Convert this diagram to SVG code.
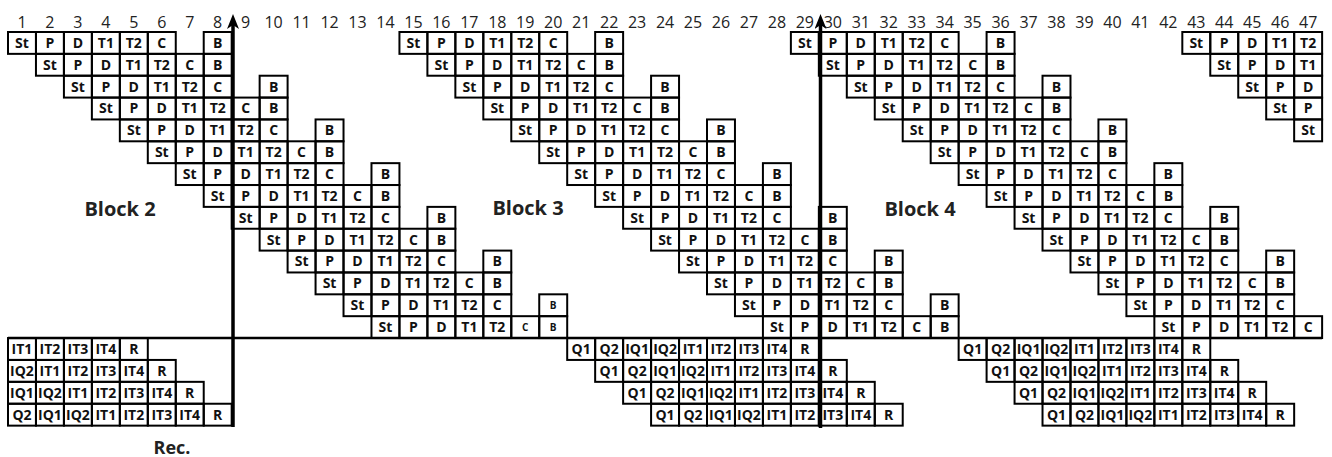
<svg xmlns="http://www.w3.org/2000/svg" width="1332" height="457" viewBox="0 0 1332 457">
<style>
g.r rect{fill:none;stroke:#000;stroke-width:2}
g.r text{font-family:"Open Sans","Liberation Sans",sans-serif;font-weight:bold;font-size:14px;text-anchor:middle;fill:#111}
g.r text.s{font-size:10px}
.n{font-family:"Open Sans","Liberation Sans",sans-serif;font-size:16px;text-anchor:middle;fill:#222}
.lbl{font-family:"Open Sans","Liberation Sans",sans-serif;font-weight:bold;font-size:20px;text-anchor:middle;fill:#222}
.ax{stroke:#000;stroke-width:3.5;fill:none}
</style>
<defs>
<marker id="ah" markerUnits="userSpaceOnUse" viewBox="0 0 15 12" markerWidth="15" markerHeight="12" refX="4" refY="6" orient="auto"><path d="M0,0 L15,6 L0,12 L4,6 Z" fill="#000"/></marker>
</defs>
<rect x="0" y="0" width="1332" height="457" fill="#fff"/>
<g id="numbers">
<text class="n" x="21.98" y="28">1</text><text class="n" x="49.94" y="28">2</text><text class="n" x="77.9" y="28">3</text><text class="n" x="105.86" y="28">4</text><text class="n" x="133.82" y="28">5</text><text class="n" x="161.78" y="28">6</text><text class="n" x="189.74" y="28">7</text><text class="n" x="217.7" y="28">8</text><text class="n" x="245.66" y="28">9</text><text class="n" x="273.62" y="28">10</text><text class="n" x="301.58" y="28">11</text><text class="n" x="329.54" y="28">12</text><text class="n" x="357.5" y="28">13</text><text class="n" x="385.46" y="28">14</text><text class="n" x="413.42" y="28">15</text><text class="n" x="441.38" y="28">16</text><text class="n" x="469.34" y="28">17</text><text class="n" x="497.3" y="28">18</text><text class="n" x="525.26" y="28">19</text><text class="n" x="553.22" y="28">20</text><text class="n" x="581.18" y="28">21</text><text class="n" x="609.14" y="28">22</text><text class="n" x="637.1" y="28">23</text><text class="n" x="665.06" y="28">24</text><text class="n" x="693.02" y="28">25</text><text class="n" x="720.98" y="28">26</text><text class="n" x="748.94" y="28">27</text><text class="n" x="776.9" y="28">28</text><text class="n" x="804.86" y="28">29</text><text class="n" x="832.82" y="28">30</text><text class="n" x="860.78" y="28">31</text><text class="n" x="888.74" y="28">32</text><text class="n" x="916.7" y="28">33</text><text class="n" x="944.66" y="28">34</text><text class="n" x="972.62" y="28">35</text><text class="n" x="1000.58" y="28">36</text><text class="n" x="1028.54" y="28">37</text><text class="n" x="1056.5" y="28">38</text><text class="n" x="1084.46" y="28">39</text><text class="n" x="1112.42" y="28">40</text><text class="n" x="1140.38" y="28">41</text><text class="n" x="1168.34" y="28">42</text><text class="n" x="1196.3" y="28">43</text><text class="n" x="1224.26" y="28">44</text><text class="n" x="1252.22" y="28">45</text><text class="n" x="1280.18" y="28">46</text><text class="n" x="1308.14" y="28">47</text>
</g>
<g id="block2">
<g class="r" transform="translate(8,32)"><rect x="0" width="27.96" height="21.86"/><text x="13.98" y="15.8">St</text><rect x="27.96" width="27.96" height="21.86"/><text x="41.94" y="15.8">P</text><rect x="55.92" width="27.96" height="21.86"/><text x="69.9" y="15.8">D</text><rect x="83.88" width="27.96" height="21.86"/><text x="97.86" y="15.8">T1</text><rect x="111.84" width="27.96" height="21.86"/><text x="125.82" y="15.8">T2</text><rect x="139.8" width="27.96" height="21.86"/><text x="153.78" y="15.8">C</text><rect x="195.72" width="27.96" height="21.86"/><text x="209.7" y="15.8">B</text></g>
<g class="r" transform="translate(35.96,53.86)"><rect x="0" width="27.96" height="21.86"/><text x="13.98" y="15.8">St</text><rect x="27.96" width="27.96" height="21.86"/><text x="41.94" y="15.8">P</text><rect x="55.92" width="27.96" height="21.86"/><text x="69.9" y="15.8">D</text><rect x="83.88" width="27.96" height="21.86"/><text x="97.86" y="15.8">T1</text><rect x="111.84" width="27.96" height="21.86"/><text x="125.82" y="15.8">T2</text><rect x="139.8" width="27.96" height="21.86"/><text x="153.78" y="15.8">C</text><rect x="167.76" width="27.96" height="21.86"/><text x="181.74" y="15.8">B</text></g>
<g class="r" transform="translate(63.92,75.72)"><rect x="0" width="27.96" height="21.86"/><text x="13.98" y="15.8">St</text><rect x="27.96" width="27.96" height="21.86"/><text x="41.94" y="15.8">P</text><rect x="55.92" width="27.96" height="21.86"/><text x="69.9" y="15.8">D</text><rect x="83.88" width="27.96" height="21.86"/><text x="97.86" y="15.8">T1</text><rect x="111.84" width="27.96" height="21.86"/><text x="125.82" y="15.8">T2</text><rect x="139.8" width="27.96" height="21.86"/><text x="153.78" y="15.8">C</text><rect x="195.72" width="27.96" height="21.86"/><text x="209.7" y="15.8">B</text></g>
<g class="r" transform="translate(91.88,97.58)"><rect x="0" width="27.96" height="21.86"/><text x="13.98" y="15.8">St</text><rect x="27.96" width="27.96" height="21.86"/><text x="41.94" y="15.8">P</text><rect x="55.92" width="27.96" height="21.86"/><text x="69.9" y="15.8">D</text><rect x="83.88" width="27.96" height="21.86"/><text x="97.86" y="15.8">T1</text><rect x="111.84" width="27.96" height="21.86"/><text x="125.82" y="15.8">T2</text><rect x="139.8" width="27.96" height="21.86"/><text x="153.78" y="15.8">C</text><rect x="167.76" width="27.96" height="21.86"/><text x="181.74" y="15.8">B</text></g>
<g class="r" transform="translate(119.84,119.44)"><rect x="0" width="27.96" height="21.86"/><text x="13.98" y="15.8">St</text><rect x="27.96" width="27.96" height="21.86"/><text x="41.94" y="15.8">P</text><rect x="55.92" width="27.96" height="21.86"/><text x="69.9" y="15.8">D</text><rect x="83.88" width="27.96" height="21.86"/><text x="97.86" y="15.8">T1</text><rect x="111.84" width="27.96" height="21.86"/><text x="125.82" y="15.8">T2</text><rect x="139.8" width="27.96" height="21.86"/><text x="153.78" y="15.8">C</text><rect x="195.72" width="27.96" height="21.86"/><text x="209.7" y="15.8">B</text></g>
<g class="r" transform="translate(147.8,141.3)"><rect x="0" width="27.96" height="21.86"/><text x="13.98" y="15.8">St</text><rect x="27.96" width="27.96" height="21.86"/><text x="41.94" y="15.8">P</text><rect x="55.92" width="27.96" height="21.86"/><text x="69.9" y="15.8">D</text><rect x="83.88" width="27.96" height="21.86"/><text x="97.86" y="15.8">T1</text><rect x="111.84" width="27.96" height="21.86"/><text x="125.82" y="15.8">T2</text><rect x="139.8" width="27.96" height="21.86"/><text x="153.78" y="15.8">C</text><rect x="167.76" width="27.96" height="21.86"/><text x="181.74" y="15.8">B</text></g>
<g class="r" transform="translate(175.76,163.16)"><rect x="0" width="27.96" height="21.86"/><text x="13.98" y="15.8">St</text><rect x="27.96" width="27.96" height="21.86"/><text x="41.94" y="15.8">P</text><rect x="55.92" width="27.96" height="21.86"/><text x="69.9" y="15.8">D</text><rect x="83.88" width="27.96" height="21.86"/><text x="97.86" y="15.8">T1</text><rect x="111.84" width="27.96" height="21.86"/><text x="125.82" y="15.8">T2</text><rect x="139.8" width="27.96" height="21.86"/><text x="153.78" y="15.8">C</text><rect x="195.72" width="27.96" height="21.86"/><text x="209.7" y="15.8">B</text></g>
<g class="r" transform="translate(203.72,185.02)"><rect x="0" width="27.96" height="21.86"/><text x="13.98" y="15.8">St</text><rect x="27.96" width="27.96" height="21.86"/><text x="41.94" y="15.8">P</text><rect x="55.92" width="27.96" height="21.86"/><text x="69.9" y="15.8">D</text><rect x="83.88" width="27.96" height="21.86"/><text x="97.86" y="15.8">T1</text><rect x="111.84" width="27.96" height="21.86"/><text x="125.82" y="15.8">T2</text><rect x="139.8" width="27.96" height="21.86"/><text x="153.78" y="15.8">C</text><rect x="167.76" width="27.96" height="21.86"/><text x="181.74" y="15.8">B</text></g>
<g class="r" transform="translate(231.68,206.88)"><rect x="0" width="27.96" height="21.86"/><text x="13.98" y="15.8">St</text><rect x="27.96" width="27.96" height="21.86"/><text x="41.94" y="15.8">P</text><rect x="55.92" width="27.96" height="21.86"/><text x="69.9" y="15.8">D</text><rect x="83.88" width="27.96" height="21.86"/><text x="97.86" y="15.8">T1</text><rect x="111.84" width="27.96" height="21.86"/><text x="125.82" y="15.8">T2</text><rect x="139.8" width="27.96" height="21.86"/><text x="153.78" y="15.8">C</text><rect x="195.72" width="27.96" height="21.86"/><text x="209.7" y="15.8">B</text></g>
<g class="r" transform="translate(259.64,228.74)"><rect x="0" width="27.96" height="21.86"/><text x="13.98" y="15.8">St</text><rect x="27.96" width="27.96" height="21.86"/><text x="41.94" y="15.8">P</text><rect x="55.92" width="27.96" height="21.86"/><text x="69.9" y="15.8">D</text><rect x="83.88" width="27.96" height="21.86"/><text x="97.86" y="15.8">T1</text><rect x="111.84" width="27.96" height="21.86"/><text x="125.82" y="15.8">T2</text><rect x="139.8" width="27.96" height="21.86"/><text x="153.78" y="15.8">C</text><rect x="167.76" width="27.96" height="21.86"/><text x="181.74" y="15.8">B</text></g>
<g class="r" transform="translate(287.6,250.6)"><rect x="0" width="27.96" height="21.86"/><text x="13.98" y="15.8">St</text><rect x="27.96" width="27.96" height="21.86"/><text x="41.94" y="15.8">P</text><rect x="55.92" width="27.96" height="21.86"/><text x="69.9" y="15.8">D</text><rect x="83.88" width="27.96" height="21.86"/><text x="97.86" y="15.8">T1</text><rect x="111.84" width="27.96" height="21.86"/><text x="125.82" y="15.8">T2</text><rect x="139.8" width="27.96" height="21.86"/><text x="153.78" y="15.8">C</text><rect x="195.72" width="27.96" height="21.86"/><text x="209.7" y="15.8">B</text></g>
<g class="r" transform="translate(315.56,272.46)"><rect x="0" width="27.96" height="21.86"/><text x="13.98" y="15.8">St</text><rect x="27.96" width="27.96" height="21.86"/><text x="41.94" y="15.8">P</text><rect x="55.92" width="27.96" height="21.86"/><text x="69.9" y="15.8">D</text><rect x="83.88" width="27.96" height="21.86"/><text x="97.86" y="15.8">T1</text><rect x="111.84" width="27.96" height="21.86"/><text x="125.82" y="15.8">T2</text><rect x="139.8" width="27.96" height="21.86"/><text x="153.78" y="15.8">C</text><rect x="167.76" width="27.96" height="21.86"/><text x="181.74" y="15.8">B</text></g>
<g class="r" transform="translate(343.52,294.32)"><rect x="0" width="27.96" height="21.86"/><text x="13.98" y="15.8">St</text><rect x="27.96" width="27.96" height="21.86"/><text x="41.94" y="15.8">P</text><rect x="55.92" width="27.96" height="21.86"/><text x="69.9" y="15.8">D</text><rect x="83.88" width="27.96" height="21.86"/><text x="97.86" y="15.8">T1</text><rect x="111.84" width="27.96" height="21.86"/><text x="125.82" y="15.8">T2</text><rect x="139.8" width="27.96" height="21.86"/><text x="153.78" y="15.8">C</text><rect x="195.72" width="27.96" height="21.86"/><text class="s" x="209.7" y="14.5">B</text></g>
<g class="r" transform="translate(371.48,316.18)"><rect x="0" width="27.96" height="21.86"/><text x="13.98" y="15.8">St</text><rect x="27.96" width="27.96" height="21.86"/><text x="41.94" y="15.8">P</text><rect x="55.92" width="27.96" height="21.86"/><text x="69.9" y="15.8">D</text><rect x="83.88" width="27.96" height="21.86"/><text x="97.86" y="15.8">T1</text><rect x="111.84" width="27.96" height="21.86"/><text x="125.82" y="15.8">T2</text><rect x="139.8" width="27.96" height="21.86"/><text class="s" x="153.78" y="14.5">C</text><rect x="167.76" width="27.96" height="21.86"/><text class="s" x="181.74" y="14.5">B</text></g>
<text class="lbl" x="120" y="216">Block 2</text>
</g>
<g id="block3">
<g class="r" transform="translate(399.44,32)"><rect x="0" width="27.96" height="21.86"/><text x="13.98" y="15.8">St</text><rect x="27.96" width="27.96" height="21.86"/><text x="41.94" y="15.8">P</text><rect x="55.92" width="27.96" height="21.86"/><text x="69.9" y="15.8">D</text><rect x="83.88" width="27.96" height="21.86"/><text x="97.86" y="15.8">T1</text><rect x="111.84" width="27.96" height="21.86"/><text x="125.82" y="15.8">T2</text><rect x="139.8" width="27.96" height="21.86"/><text x="153.78" y="15.8">C</text><rect x="195.72" width="27.96" height="21.86"/><text x="209.7" y="15.8">B</text></g>
<g class="r" transform="translate(427.4,53.86)"><rect x="0" width="27.96" height="21.86"/><text x="13.98" y="15.8">St</text><rect x="27.96" width="27.96" height="21.86"/><text x="41.94" y="15.8">P</text><rect x="55.92" width="27.96" height="21.86"/><text x="69.9" y="15.8">D</text><rect x="83.88" width="27.96" height="21.86"/><text x="97.86" y="15.8">T1</text><rect x="111.84" width="27.96" height="21.86"/><text x="125.82" y="15.8">T2</text><rect x="139.8" width="27.96" height="21.86"/><text x="153.78" y="15.8">C</text><rect x="167.76" width="27.96" height="21.86"/><text x="181.74" y="15.8">B</text></g>
<g class="r" transform="translate(455.36,75.72)"><rect x="0" width="27.96" height="21.86"/><text x="13.98" y="15.8">St</text><rect x="27.96" width="27.96" height="21.86"/><text x="41.94" y="15.8">P</text><rect x="55.92" width="27.96" height="21.86"/><text x="69.9" y="15.8">D</text><rect x="83.88" width="27.96" height="21.86"/><text x="97.86" y="15.8">T1</text><rect x="111.84" width="27.96" height="21.86"/><text x="125.82" y="15.8">T2</text><rect x="139.8" width="27.96" height="21.86"/><text x="153.78" y="15.8">C</text><rect x="195.72" width="27.96" height="21.86"/><text x="209.7" y="15.8">B</text></g>
<g class="r" transform="translate(483.32,97.58)"><rect x="0" width="27.96" height="21.86"/><text x="13.98" y="15.8">St</text><rect x="27.96" width="27.96" height="21.86"/><text x="41.94" y="15.8">P</text><rect x="55.92" width="27.96" height="21.86"/><text x="69.9" y="15.8">D</text><rect x="83.88" width="27.96" height="21.86"/><text x="97.86" y="15.8">T1</text><rect x="111.84" width="27.96" height="21.86"/><text x="125.82" y="15.8">T2</text><rect x="139.8" width="27.96" height="21.86"/><text x="153.78" y="15.8">C</text><rect x="167.76" width="27.96" height="21.86"/><text x="181.74" y="15.8">B</text></g>
<g class="r" transform="translate(511.28,119.44)"><rect x="0" width="27.96" height="21.86"/><text x="13.98" y="15.8">St</text><rect x="27.96" width="27.96" height="21.86"/><text x="41.94" y="15.8">P</text><rect x="55.92" width="27.96" height="21.86"/><text x="69.9" y="15.8">D</text><rect x="83.88" width="27.96" height="21.86"/><text x="97.86" y="15.8">T1</text><rect x="111.84" width="27.96" height="21.86"/><text x="125.82" y="15.8">T2</text><rect x="139.8" width="27.96" height="21.86"/><text x="153.78" y="15.8">C</text><rect x="195.72" width="27.96" height="21.86"/><text x="209.7" y="15.8">B</text></g>
<g class="r" transform="translate(539.24,141.3)"><rect x="0" width="27.96" height="21.86"/><text x="13.98" y="15.8">St</text><rect x="27.96" width="27.96" height="21.86"/><text x="41.94" y="15.8">P</text><rect x="55.92" width="27.96" height="21.86"/><text x="69.9" y="15.8">D</text><rect x="83.88" width="27.96" height="21.86"/><text x="97.86" y="15.8">T1</text><rect x="111.84" width="27.96" height="21.86"/><text x="125.82" y="15.8">T2</text><rect x="139.8" width="27.96" height="21.86"/><text x="153.78" y="15.8">C</text><rect x="167.76" width="27.96" height="21.86"/><text x="181.74" y="15.8">B</text></g>
<g class="r" transform="translate(567.2,163.16)"><rect x="0" width="27.96" height="21.86"/><text x="13.98" y="15.8">St</text><rect x="27.96" width="27.96" height="21.86"/><text x="41.94" y="15.8">P</text><rect x="55.92" width="27.96" height="21.86"/><text x="69.9" y="15.8">D</text><rect x="83.88" width="27.96" height="21.86"/><text x="97.86" y="15.8">T1</text><rect x="111.84" width="27.96" height="21.86"/><text x="125.82" y="15.8">T2</text><rect x="139.8" width="27.96" height="21.86"/><text x="153.78" y="15.8">C</text><rect x="195.72" width="27.96" height="21.86"/><text x="209.7" y="15.8">B</text></g>
<g class="r" transform="translate(595.16,185.02)"><rect x="0" width="27.96" height="21.86"/><text x="13.98" y="15.8">St</text><rect x="27.96" width="27.96" height="21.86"/><text x="41.94" y="15.8">P</text><rect x="55.92" width="27.96" height="21.86"/><text x="69.9" y="15.8">D</text><rect x="83.88" width="27.96" height="21.86"/><text x="97.86" y="15.8">T1</text><rect x="111.84" width="27.96" height="21.86"/><text x="125.82" y="15.8">T2</text><rect x="139.8" width="27.96" height="21.86"/><text x="153.78" y="15.8">C</text><rect x="167.76" width="27.96" height="21.86"/><text x="181.74" y="15.8">B</text></g>
<g class="r" transform="translate(623.12,206.88)"><rect x="0" width="27.96" height="21.86"/><text x="13.98" y="15.8">St</text><rect x="27.96" width="27.96" height="21.86"/><text x="41.94" y="15.8">P</text><rect x="55.92" width="27.96" height="21.86"/><text x="69.9" y="15.8">D</text><rect x="83.88" width="27.96" height="21.86"/><text x="97.86" y="15.8">T1</text><rect x="111.84" width="27.96" height="21.86"/><text x="125.82" y="15.8">T2</text><rect x="139.8" width="27.96" height="21.86"/><text x="153.78" y="15.8">C</text><rect x="195.72" width="27.96" height="21.86"/><text x="209.7" y="15.8">B</text></g>
<g class="r" transform="translate(651.08,228.74)"><rect x="0" width="27.96" height="21.86"/><text x="13.98" y="15.8">St</text><rect x="27.96" width="27.96" height="21.86"/><text x="41.94" y="15.8">P</text><rect x="55.92" width="27.96" height="21.86"/><text x="69.9" y="15.8">D</text><rect x="83.88" width="27.96" height="21.86"/><text x="97.86" y="15.8">T1</text><rect x="111.84" width="27.96" height="21.86"/><text x="125.82" y="15.8">T2</text><rect x="139.8" width="27.96" height="21.86"/><text x="153.78" y="15.8">C</text><rect x="167.76" width="27.96" height="21.86"/><text x="181.74" y="15.8">B</text></g>
<g class="r" transform="translate(679.04,250.6)"><rect x="0" width="27.96" height="21.86"/><text x="13.98" y="15.8">St</text><rect x="27.96" width="27.96" height="21.86"/><text x="41.94" y="15.8">P</text><rect x="55.92" width="27.96" height="21.86"/><text x="69.9" y="15.8">D</text><rect x="83.88" width="27.96" height="21.86"/><text x="97.86" y="15.8">T1</text><rect x="111.84" width="27.96" height="21.86"/><text x="125.82" y="15.8">T2</text><rect x="139.8" width="27.96" height="21.86"/><text x="153.78" y="15.8">C</text><rect x="195.72" width="27.96" height="21.86"/><text x="209.7" y="15.8">B</text></g>
<g class="r" transform="translate(707,272.46)"><rect x="0" width="27.96" height="21.86"/><text x="13.98" y="15.8">St</text><rect x="27.96" width="27.96" height="21.86"/><text x="41.94" y="15.8">P</text><rect x="55.92" width="27.96" height="21.86"/><text x="69.9" y="15.8">D</text><rect x="83.88" width="27.96" height="21.86"/><text x="97.86" y="15.8">T1</text><rect x="111.84" width="27.96" height="21.86"/><text x="125.82" y="15.8">T2</text><rect x="139.8" width="27.96" height="21.86"/><text x="153.78" y="15.8">C</text><rect x="167.76" width="27.96" height="21.86"/><text x="181.74" y="15.8">B</text></g>
<g class="r" transform="translate(734.96,294.32)"><rect x="0" width="27.96" height="21.86"/><text x="13.98" y="15.8">St</text><rect x="27.96" width="27.96" height="21.86"/><text x="41.94" y="15.8">P</text><rect x="55.92" width="27.96" height="21.86"/><text x="69.9" y="15.8">D</text><rect x="83.88" width="27.96" height="21.86"/><text x="97.86" y="15.8">T1</text><rect x="111.84" width="27.96" height="21.86"/><text x="125.82" y="15.8">T2</text><rect x="139.8" width="27.96" height="21.86"/><text x="153.78" y="15.8">C</text><rect x="195.72" width="27.96" height="21.86"/><text x="209.7" y="15.8">B</text></g>
<g class="r" transform="translate(762.92,316.18)"><rect x="0" width="27.96" height="21.86"/><text x="13.98" y="15.8">St</text><rect x="27.96" width="27.96" height="21.86"/><text x="41.94" y="15.8">P</text><rect x="55.92" width="27.96" height="21.86"/><text x="69.9" y="15.8">D</text><rect x="83.88" width="27.96" height="21.86"/><text x="97.86" y="15.8">T1</text><rect x="111.84" width="27.96" height="21.86"/><text x="125.82" y="15.8">T2</text><rect x="139.8" width="27.96" height="21.86"/><text x="153.78" y="15.8">C</text><rect x="167.76" width="27.96" height="21.86"/><text x="181.74" y="15.8">B</text></g>
<text class="lbl" x="528" y="215">Block 3</text>
</g>
<g id="block4">
<g class="r" transform="translate(790.88,32)"><rect x="0" width="27.96" height="21.86"/><text x="13.98" y="15.8">St</text><rect x="27.96" width="27.96" height="21.86"/><text x="41.94" y="15.8">P</text><rect x="55.92" width="27.96" height="21.86"/><text x="69.9" y="15.8">D</text><rect x="83.88" width="27.96" height="21.86"/><text x="97.86" y="15.8">T1</text><rect x="111.84" width="27.96" height="21.86"/><text x="125.82" y="15.8">T2</text><rect x="139.8" width="27.96" height="21.86"/><text x="153.78" y="15.8">C</text><rect x="195.72" width="27.96" height="21.86"/><text x="209.7" y="15.8">B</text></g>
<g class="r" transform="translate(818.84,53.86)"><rect x="0" width="27.96" height="21.86"/><text x="13.98" y="15.8">St</text><rect x="27.96" width="27.96" height="21.86"/><text x="41.94" y="15.8">P</text><rect x="55.92" width="27.96" height="21.86"/><text x="69.9" y="15.8">D</text><rect x="83.88" width="27.96" height="21.86"/><text x="97.86" y="15.8">T1</text><rect x="111.84" width="27.96" height="21.86"/><text x="125.82" y="15.8">T2</text><rect x="139.8" width="27.96" height="21.86"/><text x="153.78" y="15.8">C</text><rect x="167.76" width="27.96" height="21.86"/><text x="181.74" y="15.8">B</text></g>
<g class="r" transform="translate(846.8,75.72)"><rect x="0" width="27.96" height="21.86"/><text x="13.98" y="15.8">St</text><rect x="27.96" width="27.96" height="21.86"/><text x="41.94" y="15.8">P</text><rect x="55.92" width="27.96" height="21.86"/><text x="69.9" y="15.8">D</text><rect x="83.88" width="27.96" height="21.86"/><text x="97.86" y="15.8">T1</text><rect x="111.84" width="27.96" height="21.86"/><text x="125.82" y="15.8">T2</text><rect x="139.8" width="27.96" height="21.86"/><text x="153.78" y="15.8">C</text><rect x="195.72" width="27.96" height="21.86"/><text x="209.7" y="15.8">B</text></g>
<g class="r" transform="translate(874.76,97.58)"><rect x="0" width="27.96" height="21.86"/><text x="13.98" y="15.8">St</text><rect x="27.96" width="27.96" height="21.86"/><text x="41.94" y="15.8">P</text><rect x="55.92" width="27.96" height="21.86"/><text x="69.9" y="15.8">D</text><rect x="83.88" width="27.96" height="21.86"/><text x="97.86" y="15.8">T1</text><rect x="111.84" width="27.96" height="21.86"/><text x="125.82" y="15.8">T2</text><rect x="139.8" width="27.96" height="21.86"/><text x="153.78" y="15.8">C</text><rect x="167.76" width="27.96" height="21.86"/><text x="181.74" y="15.8">B</text></g>
<g class="r" transform="translate(902.72,119.44)"><rect x="0" width="27.96" height="21.86"/><text x="13.98" y="15.8">St</text><rect x="27.96" width="27.96" height="21.86"/><text x="41.94" y="15.8">P</text><rect x="55.92" width="27.96" height="21.86"/><text x="69.9" y="15.8">D</text><rect x="83.88" width="27.96" height="21.86"/><text x="97.86" y="15.8">T1</text><rect x="111.84" width="27.96" height="21.86"/><text x="125.82" y="15.8">T2</text><rect x="139.8" width="27.96" height="21.86"/><text x="153.78" y="15.8">C</text><rect x="195.72" width="27.96" height="21.86"/><text x="209.7" y="15.8">B</text></g>
<g class="r" transform="translate(930.68,141.3)"><rect x="0" width="27.96" height="21.86"/><text x="13.98" y="15.8">St</text><rect x="27.96" width="27.96" height="21.86"/><text x="41.94" y="15.8">P</text><rect x="55.92" width="27.96" height="21.86"/><text x="69.9" y="15.8">D</text><rect x="83.88" width="27.96" height="21.86"/><text x="97.86" y="15.8">T1</text><rect x="111.84" width="27.96" height="21.86"/><text x="125.82" y="15.8">T2</text><rect x="139.8" width="27.96" height="21.86"/><text x="153.78" y="15.8">C</text><rect x="167.76" width="27.96" height="21.86"/><text x="181.74" y="15.8">B</text></g>
<g class="r" transform="translate(958.64,163.16)"><rect x="0" width="27.96" height="21.86"/><text x="13.98" y="15.8">St</text><rect x="27.96" width="27.96" height="21.86"/><text x="41.94" y="15.8">P</text><rect x="55.92" width="27.96" height="21.86"/><text x="69.9" y="15.8">D</text><rect x="83.88" width="27.96" height="21.86"/><text x="97.86" y="15.8">T1</text><rect x="111.84" width="27.96" height="21.86"/><text x="125.82" y="15.8">T2</text><rect x="139.8" width="27.96" height="21.86"/><text x="153.78" y="15.8">C</text><rect x="195.72" width="27.96" height="21.86"/><text x="209.7" y="15.8">B</text></g>
<g class="r" transform="translate(986.6,185.02)"><rect x="0" width="27.96" height="21.86"/><text x="13.98" y="15.8">St</text><rect x="27.96" width="27.96" height="21.86"/><text x="41.94" y="15.8">P</text><rect x="55.92" width="27.96" height="21.86"/><text x="69.9" y="15.8">D</text><rect x="83.88" width="27.96" height="21.86"/><text x="97.86" y="15.8">T1</text><rect x="111.84" width="27.96" height="21.86"/><text x="125.82" y="15.8">T2</text><rect x="139.8" width="27.96" height="21.86"/><text x="153.78" y="15.8">C</text><rect x="167.76" width="27.96" height="21.86"/><text x="181.74" y="15.8">B</text></g>
<g class="r" transform="translate(1014.56,206.88)"><rect x="0" width="27.96" height="21.86"/><text x="13.98" y="15.8">St</text><rect x="27.96" width="27.96" height="21.86"/><text x="41.94" y="15.8">P</text><rect x="55.92" width="27.96" height="21.86"/><text x="69.9" y="15.8">D</text><rect x="83.88" width="27.96" height="21.86"/><text x="97.86" y="15.8">T1</text><rect x="111.84" width="27.96" height="21.86"/><text x="125.82" y="15.8">T2</text><rect x="139.8" width="27.96" height="21.86"/><text x="153.78" y="15.8">C</text><rect x="195.72" width="27.96" height="21.86"/><text x="209.7" y="15.8">B</text></g>
<g class="r" transform="translate(1042.52,228.74)"><rect x="0" width="27.96" height="21.86"/><text x="13.98" y="15.8">St</text><rect x="27.96" width="27.96" height="21.86"/><text x="41.94" y="15.8">P</text><rect x="55.92" width="27.96" height="21.86"/><text x="69.9" y="15.8">D</text><rect x="83.88" width="27.96" height="21.86"/><text x="97.86" y="15.8">T1</text><rect x="111.84" width="27.96" height="21.86"/><text x="125.82" y="15.8">T2</text><rect x="139.8" width="27.96" height="21.86"/><text x="153.78" y="15.8">C</text><rect x="167.76" width="27.96" height="21.86"/><text x="181.74" y="15.8">B</text></g>
<g class="r" transform="translate(1070.48,250.6)"><rect x="0" width="27.96" height="21.86"/><text x="13.98" y="15.8">St</text><rect x="27.96" width="27.96" height="21.86"/><text x="41.94" y="15.8">P</text><rect x="55.92" width="27.96" height="21.86"/><text x="69.9" y="15.8">D</text><rect x="83.88" width="27.96" height="21.86"/><text x="97.86" y="15.8">T1</text><rect x="111.84" width="27.96" height="21.86"/><text x="125.82" y="15.8">T2</text><rect x="139.8" width="27.96" height="21.86"/><text x="153.78" y="15.8">C</text><rect x="195.72" width="27.96" height="21.86"/><text x="209.7" y="15.8">B</text></g>
<g class="r" transform="translate(1098.44,272.46)"><rect x="0" width="27.96" height="21.86"/><text x="13.98" y="15.8">St</text><rect x="27.96" width="27.96" height="21.86"/><text x="41.94" y="15.8">P</text><rect x="55.92" width="27.96" height="21.86"/><text x="69.9" y="15.8">D</text><rect x="83.88" width="27.96" height="21.86"/><text x="97.86" y="15.8">T1</text><rect x="111.84" width="27.96" height="21.86"/><text x="125.82" y="15.8">T2</text><rect x="139.8" width="27.96" height="21.86"/><text x="153.78" y="15.8">C</text><rect x="167.76" width="27.96" height="21.86"/><text x="181.74" y="15.8">B</text></g>
<g class="r" transform="translate(1126.4,294.32)"><rect x="0" width="27.96" height="21.86"/><text x="13.98" y="15.8">St</text><rect x="27.96" width="27.96" height="21.86"/><text x="41.94" y="15.8">P</text><rect x="55.92" width="27.96" height="21.86"/><text x="69.9" y="15.8">D</text><rect x="83.88" width="27.96" height="21.86"/><text x="97.86" y="15.8">T1</text><rect x="111.84" width="27.96" height="21.86"/><text x="125.82" y="15.8">T2</text><rect x="139.8" width="27.96" height="21.86"/><text x="153.78" y="15.8">C</text></g>
<g class="r" transform="translate(1154.36,316.18)"><rect x="0" width="27.96" height="21.86"/><text x="13.98" y="15.8">St</text><rect x="27.96" width="27.96" height="21.86"/><text x="41.94" y="15.8">P</text><rect x="55.92" width="27.96" height="21.86"/><text x="69.9" y="15.8">D</text><rect x="83.88" width="27.96" height="21.86"/><text x="97.86" y="15.8">T1</text><rect x="111.84" width="27.96" height="21.86"/><text x="125.82" y="15.8">T2</text><rect x="139.8" width="27.96" height="21.86"/><text x="153.78" y="15.8">C</text></g>
<text class="lbl" x="920" y="216">Block 4</text>
</g>
<g id="block5">
<g class="r" transform="translate(1182.32,32)"><rect x="0" width="27.96" height="21.86"/><text x="13.98" y="15.8">St</text><rect x="27.96" width="27.96" height="21.86"/><text x="41.94" y="15.8">P</text><rect x="55.92" width="27.96" height="21.86"/><text x="69.9" y="15.8">D</text><rect x="83.88" width="27.96" height="21.86"/><text x="97.86" y="15.8">T1</text><rect x="111.84" width="27.96" height="21.86"/><text x="125.82" y="15.8">T2</text></g>
<g class="r" transform="translate(1210.28,53.86)"><rect x="0" width="27.96" height="21.86"/><text x="13.98" y="15.8">St</text><rect x="27.96" width="27.96" height="21.86"/><text x="41.94" y="15.8">P</text><rect x="55.92" width="27.96" height="21.86"/><text x="69.9" y="15.8">D</text><rect x="83.88" width="27.96" height="21.86"/><text x="97.86" y="15.8">T1</text></g>
<g class="r" transform="translate(1238.24,75.72)"><rect x="0" width="27.96" height="21.86"/><text x="13.98" y="15.8">St</text><rect x="27.96" width="27.96" height="21.86"/><text x="41.94" y="15.8">P</text><rect x="55.92" width="27.96" height="21.86"/><text x="69.9" y="15.8">D</text></g>
<g class="r" transform="translate(1266.2,97.58)"><rect x="0" width="27.96" height="21.86"/><text x="13.98" y="15.8">St</text><rect x="27.96" width="27.96" height="21.86"/><text x="41.94" y="15.8">P</text></g>
<g class="r" transform="translate(1294.16,119.44)"><rect x="0" width="27.96" height="21.86"/><text x="13.98" y="15.8">St</text></g>
</g>
<g id="rec-left">
<g class="r" transform="translate(8,338.04)"><rect x="0" width="27.96" height="21.9"/><text x="13.98" y="15.8">IT1</text><rect x="27.96" width="27.96" height="21.9"/><text x="41.94" y="15.8">IT2</text><rect x="55.92" width="27.96" height="21.9"/><text x="69.9" y="15.8">IT3</text><rect x="83.88" width="27.96" height="21.9"/><text x="97.86" y="15.8">IT4</text><rect x="111.84" width="27.96" height="21.9"/><text x="125.82" y="15.8">R</text></g>
<g class="r" transform="translate(8,359.94)"><rect x="0" width="27.96" height="21.9"/><text x="13.98" y="15.8">IQ2</text><rect x="27.96" width="27.96" height="21.9"/><text x="41.94" y="15.8">IT1</text><rect x="55.92" width="27.96" height="21.9"/><text x="69.9" y="15.8">IT2</text><rect x="83.88" width="27.96" height="21.9"/><text x="97.86" y="15.8">IT3</text><rect x="111.84" width="27.96" height="21.9"/><text x="125.82" y="15.8">IT4</text><rect x="139.8" width="27.96" height="21.9"/><text x="153.78" y="15.8">R</text></g>
<g class="r" transform="translate(8,381.84)"><rect x="0" width="27.96" height="21.9"/><text x="13.98" y="15.8">IQ1</text><rect x="27.96" width="27.96" height="21.9"/><text x="41.94" y="15.8">IQ2</text><rect x="55.92" width="27.96" height="21.9"/><text x="69.9" y="15.8">IT1</text><rect x="83.88" width="27.96" height="21.9"/><text x="97.86" y="15.8">IT2</text><rect x="111.84" width="27.96" height="21.9"/><text x="125.82" y="15.8">IT3</text><rect x="139.8" width="27.96" height="21.9"/><text x="153.78" y="15.8">IT4</text><rect x="167.76" width="27.96" height="21.9"/><text x="181.74" y="15.8">R</text></g>
<g class="r" transform="translate(8,403.74)"><rect x="0" width="27.96" height="21.9"/><text x="13.98" y="15.8">Q2</text><rect x="27.96" width="27.96" height="21.9"/><text x="41.94" y="15.8">IQ1</text><rect x="55.92" width="27.96" height="21.9"/><text x="69.9" y="15.8">IQ2</text><rect x="83.88" width="27.96" height="21.9"/><text x="97.86" y="15.8">IT1</text><rect x="111.84" width="27.96" height="21.9"/><text x="125.82" y="15.8">IT2</text><rect x="139.8" width="27.96" height="21.9"/><text x="153.78" y="15.8">IT3</text><rect x="167.76" width="27.96" height="21.9"/><text x="181.74" y="15.8">IT4</text><rect x="195.72" width="27.96" height="21.9"/><text x="209.7" y="15.8">R</text></g>
<text class="lbl" x="172" y="454" style="font-size:18px">Rec.</text>
</g>
<g id="rec-mid">
<g class="r" transform="translate(567.2,338.04)"><rect x="0" width="27.96" height="21.9"/><text x="13.98" y="15.8">Q1</text><rect x="27.96" width="27.96" height="21.9"/><text x="41.94" y="15.8">Q2</text><rect x="55.92" width="27.96" height="21.9"/><text x="69.9" y="15.8">IQ1</text><rect x="83.88" width="27.96" height="21.9"/><text x="97.86" y="15.8">IQ2</text><rect x="111.84" width="27.96" height="21.9"/><text x="125.82" y="15.8">IT1</text><rect x="139.8" width="27.96" height="21.9"/><text x="153.78" y="15.8">IT2</text><rect x="167.76" width="27.96" height="21.9"/><text x="181.74" y="15.8">IT3</text><rect x="195.72" width="27.96" height="21.9"/><text x="209.7" y="15.8">IT4</text><rect x="223.68" width="27.96" height="21.9"/><text x="237.66" y="15.8">R</text></g>
<g class="r" transform="translate(595.16,359.94)"><rect x="0" width="27.96" height="21.9"/><text x="13.98" y="15.8">Q1</text><rect x="27.96" width="27.96" height="21.9"/><text x="41.94" y="15.8">Q2</text><rect x="55.92" width="27.96" height="21.9"/><text x="69.9" y="15.8">IQ1</text><rect x="83.88" width="27.96" height="21.9"/><text x="97.86" y="15.8">IQ2</text><rect x="111.84" width="27.96" height="21.9"/><text x="125.82" y="15.8">IT1</text><rect x="139.8" width="27.96" height="21.9"/><text x="153.78" y="15.8">IT2</text><rect x="167.76" width="27.96" height="21.9"/><text x="181.74" y="15.8">IT3</text><rect x="195.72" width="27.96" height="21.9"/><text x="209.7" y="15.8">IT4</text><rect x="223.68" width="27.96" height="21.9"/><text x="237.66" y="15.8">R</text></g>
<g class="r" transform="translate(623.12,381.84)"><rect x="0" width="27.96" height="21.9"/><text x="13.98" y="15.8">Q1</text><rect x="27.96" width="27.96" height="21.9"/><text x="41.94" y="15.8">Q2</text><rect x="55.92" width="27.96" height="21.9"/><text x="69.9" y="15.8">IQ1</text><rect x="83.88" width="27.96" height="21.9"/><text x="97.86" y="15.8">IQ2</text><rect x="111.84" width="27.96" height="21.9"/><text x="125.82" y="15.8">IT1</text><rect x="139.8" width="27.96" height="21.9"/><text x="153.78" y="15.8">IT2</text><rect x="167.76" width="27.96" height="21.9"/><text x="181.74" y="15.8">IT3</text><rect x="195.72" width="27.96" height="21.9"/><text x="209.7" y="15.8">IT4</text><rect x="223.68" width="27.96" height="21.9"/><text x="237.66" y="15.8">R</text></g>
<g class="r" transform="translate(651.08,403.74)"><rect x="0" width="27.96" height="21.9"/><text x="13.98" y="15.8">Q1</text><rect x="27.96" width="27.96" height="21.9"/><text x="41.94" y="15.8">Q2</text><rect x="55.92" width="27.96" height="21.9"/><text x="69.9" y="15.8">IQ1</text><rect x="83.88" width="27.96" height="21.9"/><text x="97.86" y="15.8">IQ2</text><rect x="111.84" width="27.96" height="21.9"/><text x="125.82" y="15.8">IT1</text><rect x="139.8" width="27.96" height="21.9"/><text x="153.78" y="15.8">IT2</text><rect x="167.76" width="27.96" height="21.9"/><text x="181.74" y="15.8">IT3</text><rect x="195.72" width="27.96" height="21.9"/><text x="209.7" y="15.8">IT4</text><rect x="223.68" width="27.96" height="21.9"/><text x="237.66" y="15.8">R</text></g>
</g>
<g id="rec-right">
<g class="r" transform="translate(958.64,338.04)"><rect x="0" width="27.96" height="21.9"/><text x="13.98" y="15.8">Q1</text><rect x="27.96" width="27.96" height="21.9"/><text x="41.94" y="15.8">Q2</text><rect x="55.92" width="27.96" height="21.9"/><text x="69.9" y="15.8">IQ1</text><rect x="83.88" width="27.96" height="21.9"/><text x="97.86" y="15.8">IQ2</text><rect x="111.84" width="27.96" height="21.9"/><text x="125.82" y="15.8">IT1</text><rect x="139.8" width="27.96" height="21.9"/><text x="153.78" y="15.8">IT2</text><rect x="167.76" width="27.96" height="21.9"/><text x="181.74" y="15.8">IT3</text><rect x="195.72" width="27.96" height="21.9"/><text x="209.7" y="15.8">IT4</text><rect x="223.68" width="27.96" height="21.9"/><text x="237.66" y="15.8">R</text></g>
<g class="r" transform="translate(986.6,359.94)"><rect x="0" width="27.96" height="21.9"/><text x="13.98" y="15.8">Q1</text><rect x="27.96" width="27.96" height="21.9"/><text x="41.94" y="15.8">Q2</text><rect x="55.92" width="27.96" height="21.9"/><text x="69.9" y="15.8">IQ1</text><rect x="83.88" width="27.96" height="21.9"/><text x="97.86" y="15.8">IQ2</text><rect x="111.84" width="27.96" height="21.9"/><text x="125.82" y="15.8">IT1</text><rect x="139.8" width="27.96" height="21.9"/><text x="153.78" y="15.8">IT2</text><rect x="167.76" width="27.96" height="21.9"/><text x="181.74" y="15.8">IT3</text><rect x="195.72" width="27.96" height="21.9"/><text x="209.7" y="15.8">IT4</text><rect x="223.68" width="27.96" height="21.9"/><text x="237.66" y="15.8">R</text></g>
<g class="r" transform="translate(1014.56,381.84)"><rect x="0" width="27.96" height="21.9"/><text x="13.98" y="15.8">Q1</text><rect x="27.96" width="27.96" height="21.9"/><text x="41.94" y="15.8">Q2</text><rect x="55.92" width="27.96" height="21.9"/><text x="69.9" y="15.8">IQ1</text><rect x="83.88" width="27.96" height="21.9"/><text x="97.86" y="15.8">IQ2</text><rect x="111.84" width="27.96" height="21.9"/><text x="125.82" y="15.8">IT1</text><rect x="139.8" width="27.96" height="21.9"/><text x="153.78" y="15.8">IT2</text><rect x="167.76" width="27.96" height="21.9"/><text x="181.74" y="15.8">IT3</text><rect x="195.72" width="27.96" height="21.9"/><text x="209.7" y="15.8">IT4</text><rect x="223.68" width="27.96" height="21.9"/><text x="237.66" y="15.8">R</text></g>
<g class="r" transform="translate(1042.52,403.74)"><rect x="0" width="27.96" height="21.9"/><text x="13.98" y="15.8">Q1</text><rect x="27.96" width="27.96" height="21.9"/><text x="41.94" y="15.8">Q2</text><rect x="55.92" width="27.96" height="21.9"/><text x="69.9" y="15.8">IQ1</text><rect x="83.88" width="27.96" height="21.9"/><text x="97.86" y="15.8">IQ2</text><rect x="111.84" width="27.96" height="21.9"/><text x="125.82" y="15.8">IT1</text><rect x="139.8" width="27.96" height="21.9"/><text x="153.78" y="15.8">IT2</text><rect x="167.76" width="27.96" height="21.9"/><text x="181.74" y="15.8">IT3</text><rect x="195.72" width="27.96" height="21.9"/><text x="209.7" y="15.8">IT4</text><rect x="223.68" width="27.96" height="21.9"/><text x="237.66" y="15.8">R</text></g>
</g>
<g id="connectors">
<line x1="8" y1="338.04" x2="1322.12" y2="338.04" stroke="#000" stroke-width="2.6"/>
<line class="ax" x1="233" y1="427" x2="233" y2="25" marker-end="url(#ah)"/>
<line class="ax" x1="820.5" y1="428" x2="820.5" y2="25" marker-end="url(#ah)"/>
</g>
</svg>
